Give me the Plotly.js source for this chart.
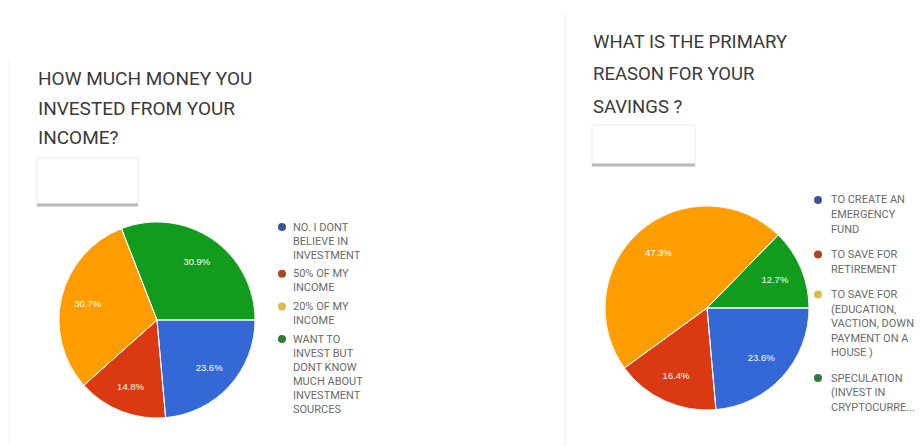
<!DOCTYPE html>
<html>
<head>
<meta charset="utf-8">
<script src="https://cdn.plot.ly/plotly-3.0.1.min.js"></script>
<style>
  html, body { margin: 0; padding: 0; background: #ffffff; }
  #chart { width: 921px; height: 446px; }
</style>
</head>
<body>
<div id="chart"></div>
<script>
// ---- Data ----
const leftTitle = ["HOW MUCH MONEY YOU", "INVESTED FROM YOUR", "INCOME?"];
const rightTitle = ["WHAT IS THE PRIMARY", "REASON FOR YOUR", "SAVINGS ?"];

const leftCategories = [
  "NO. I DONT BELIEVE IN INVESTMENT",
  "50% OF MY INCOME",
  "20% OF MY INCOME",
  "WANT TO INVEST BUT DONT KNOW MUCH ABOUT INVESTMENT SOURCES"
];
const leftLegendLines = [
  ["NO. I DONT", "BELIEVE IN", "INVESTMENT"],
  ["50% OF MY", "INCOME"],
  ["20% OF MY", "INCOME"],
  ["WANT TO", "INVEST BUT", "DONT KNOW", "MUCH ABOUT", "INVESTMENT", "SOURCES"]
];
const leftValues = [23.6, 14.8, 30.7, 30.9];

const rightCategories = [
  "TO CREATE AN EMERGENCY FUND",
  "TO SAVE FOR RETIREMENT",
  "TO SAVE FOR (EDUCATION, VACTION, DOWN PAYMENT ON A HOUSE )",
  "SPECULATION (INVEST IN CRYPTOCURRENCY)"
];
const rightLegendLines = [
  ["TO CREATE AN", "EMERGENCY", "FUND"],
  ["TO SAVE FOR", "RETIREMENT"],
  ["TO SAVE FOR", "(EDUCATION,", "VACTION, DOWN", "PAYMENT ON A", "HOUSE )"],
  ["SPECULATION", "(INVEST IN", "CRYPTOCURRE..."]
];
const rightValues = [23.6, 16.4, 47.3, 12.7];

// ---- Styling ----
const sliceColors = ["#3468d6", "#db3912", "#ff9d00", "#119c1d"];
const clearColors = ["rgba(0,0,0,0)", "rgba(0,0,0,0)", "rgba(0,0,0,0)", "rgba(0,0,0,0)"];
const legendDotColors = ["#3c5593", "#a9471f", "#d9bd45", "#2f7d34"];

const W = 921, H = 446;
const px = x => x / W;
const py = y => 1 - y / H;

// filled pie, then ring carrying the percent labels, then transparent pie drawing the slice borders
function pieTraces(labels, values, x0, x1, yTop, yBot) {
  const common = {
    type: "pie",
    labels: labels,
    values: values,
    sort: false,
    direction: "clockwise",
    rotation: 90,
    domain: { x: [px(x0), px(x1)], y: [py(yBot), py(yTop)] },
    showlegend: false,
    hoverinfo: "label+percent"
  };
  const fill = Object.assign({}, common, {
    textinfo: "none",
    marker: { colors: sliceColors, line: { width: 0 } }
  });
  const ring = Object.assign({}, common, {
    hole: 0.45,
    textinfo: "percent",
    texttemplate: "%{percent:.1%}",
    textposition: "inside",
    insidetextorientation: "horizontal",
    insidetextfont: { family: "Liberation Sans, Arial, sans-serif", size: 9.5, color: "#ffffff" },
    marker: { colors: sliceColors, line: { width: 0 } }
  });
  const borders = Object.assign({}, common, {
    textinfo: "none",
    marker: { colors: clearColors, line: { color: "#ffffff", width: 1 } }
  });
  return [fill, ring, borders];
}

const data = [].concat(
  pieTraces(leftCategories, leftValues, 59, 255, 222, 418),
  pieTraces(rightCategories, rightValues, 605, 809, 206, 410)
);

const annotations = [];
const shapes = [];

function addTitle(lines, x, yStart, step, size) {
  lines.forEach((t, i) => {
    annotations.push({
      text: t, xref: "paper", yref: "paper",
      x: px(x), y: py(yStart + i * step),
      xanchor: "left", yanchor: "middle", showarrow: false,
      font: { family: "Roboto, sans-serif", size: size, color: "#3a3a3a" }
    });
  });
}
addTitle(leftTitle, 36, 79, 29, 19);
addTitle(rightTitle, 591, 42, 32.5, 18.5);

function addLegend(items, dotX, textX, yStart, lh, gap) {
  let y = yStart;
  items.forEach((lines, k) => {
    shapes.push({
      type: "circle", xref: "paper", yref: "paper",
      x0: px(dotX - 4), x1: px(dotX + 4), y0: py(y + 4), y1: py(y - 4),
      fillcolor: legendDotColors[k], line: { width: 0 }
    });
    lines.forEach((t, i) => {
      annotations.push({
        text: t, xref: "paper", yref: "paper",
        x: px(textX), y: py(y + i * lh),
        xanchor: "left", yanchor: "middle", showarrow: false,
        font: { family: "Roboto, sans-serif", size: 11, color: "#6a6a6a" }
      });
    });
    y += lines.length * lh + gap;
  });
}
addLegend(leftLegendLines, 282, 291, 227, 14, 4.7);
addLegend(rightLegendLines, 818, 829, 200, 14.5, 11);

// card borders / dividers
shapes.push({ type: "line", xref: "paper", yref: "paper", x0: px(565), x1: px(565), y0: py(12), y1: py(446), line: { color: "#efefef", width: 1 } });
shapes.push({ type: "line", xref: "paper", yref: "paper", x0: px(9), x1: px(9), y0: py(60), y1: py(446), line: { color: "#f2f2f2", width: 1 } });

// little white boxes with gray bottom
function addBox(x0, x1, y0, y1) {
  shapes.push({ type: "rect", xref: "paper", yref: "paper", x0: px(x0), x1: px(x1), y0: py(y1), y1: py(y0), fillcolor: "#ffffff", line: { color: "#ececec", width: 1 } });
  shapes.push({ type: "line", xref: "paper", yref: "paper", x0: px(x0), x1: px(x1), y0: py(y1 - 1), y1: py(y1 - 1), line: { color: "#b9b9b9", width: 3 } });
}
addBox(37, 138, 158, 206);
addBox(592, 695, 125, 166);

const layout = {
  width: W, height: H,
  margin: { l: 0, r: 0, t: 0, b: 0 },
  paper_bgcolor: "#ffffff",
  plot_bgcolor: "#ffffff",
  showlegend: false,
  annotations: annotations,
  shapes: shapes
};

Plotly.newPlot("chart", data, layout, { displayModeBar: false, staticPlot: true });
</script>
</body>
</html>
